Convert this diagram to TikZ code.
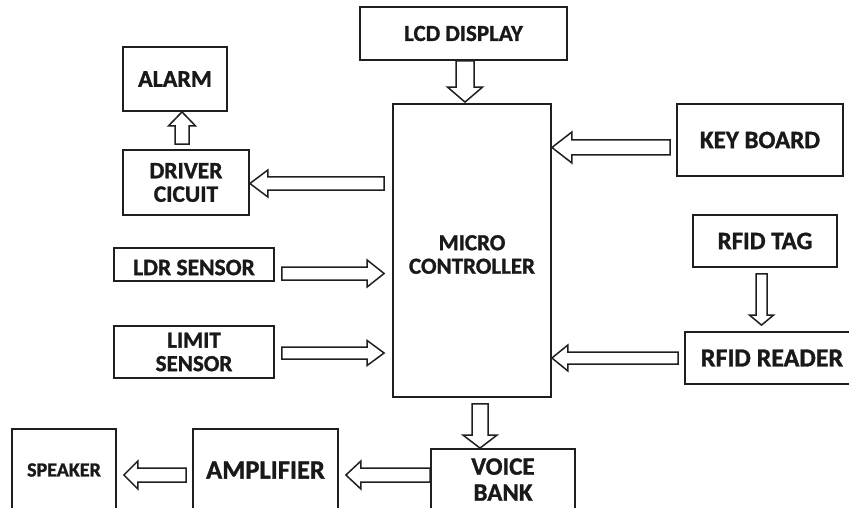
\documentclass[tikz,border=0pt]{standalone}
\usepackage{fontspec}
\setmainfont{Carlito}[BoldFeatures={FakeBold=1.2}]
\usetikzlibrary{calc}
\newcommand\fs[2]{\fontsize{#1}{#2}\selectfont\bfseries}
\newcommand\lowr[2]{\raisebox{-#1pt}[\height][\depth]{#2}}
% block arrow: shaft half width, head half width, head length, start, end
\newcommand\barr[5]{%
  \draw[blk] let \p1=(#4), \p2=(#5),
    \n1={atan2(\y2-\y1,\x2-\x1)}, \n2={veclen(\x2-\x1,\y2-\y1)} in
    [shift={(\p1)}, rotate=\n1]
    (0,-#1) -- ({\n2-#3},-#1) -- ({\n2-#3},-#2) -- ({\n2},0)
    -- ({\n2-#3},#2) -- ({\n2-#3},#1) -- (0,#1) -- cycle;}
\begin{document}
\begin{tikzpicture}[x=1pt,y=-1pt,
  box/.style={draw=black!88, line width=1.8pt, inner sep=0pt, align=center,
    text=black!90, fill=white},
  blk/.style={draw=black!88, line width=1.5pt, fill=white, line join=miter}]
\useasboundingbox (0,0) rectangle (849,508);
\clip (0,0) rectangle (849,508);
\fill[white] (0,0) rectangle (849,508);
% nodes
\node[box, minimum width=104pt, minimum height=64pt, font=\fs{24}{24}] (alarm) at (175,79) {ALARM};
\node[box, minimum width=126pt, minimum height=65pt, font=\fs{23.5}{23.5}] (driver) at (186,182.5) {DRIVER\\CICUIT};
\node[box, minimum width=207pt, minimum height=53pt, font=\fs{23}{24}] (lcd) at (463.5,33.5) {LCD DISPLAY};
\node[box, minimum width=158pt, minimum height=293pt, font=\fs{23}{23.5}] (micro) at (472,250.5) {\lowr{4}{MICRO}\\\lowr{4}{CONTROLLER}};
\node[box, minimum width=166pt, minimum height=72pt, font=\fs{25}{24}] (key) at (760,140) {KEY BOARD};
\node[box, minimum width=144pt, minimum height=52pt, font=\fs{25}{24}] (tag) at (765,241) {RFID TAG};
\node[box, minimum width=174pt, minimum height=52pt, font=\fs{26}{24}] (reader) at (772,358) {RFID READER};
\node[box, minimum width=160pt, minimum height=33pt, font=\fs{23.5}{24}] (ldr) at (194,264.5) {\lowr{3}{LDR SENSOR}};
\node[box, minimum width=160pt, minimum height=52pt, font=\fs{23}{23.5}] (limit) at (194,352) {LIMIT\\SENSOR};
\node[box, minimum width=104pt, minimum height=82pt, font=\fs{20}{24}] (speaker) at (64,470) {SPEAKER};
\node[box, minimum width=145pt, minimum height=82pt, font=\fs{26.5}{24}] (amp) at (265.5,470) {AMPLIFIER};
\node[box, minimum width=144pt, minimum height=61pt, font=\fs{25}{26}] (voice) at (503,479.5) {VOICE\\BANK};
% connectors
\barr{6.5}{13.5}{18}{$(micro.west |- driver.east)+(-8,1)$}{$(driver.east)+(0,1)$}
\barr{7}{13.5}{14}{$(driver.north)+(-4,-5)$}{$(alarm.south -| driver.north)+(-4,0)$}
\barr{9}{17.5}{15}{$(lcd.south)+(1.5,0)$}{$(micro.north -| lcd.south)+(1.5,-1)$}
\barr{7.5}{15.5}{20}{$(key.west)+(-6,7.5)$}{$(micro.east |- key.west)+(0,7.5)$}
\barr{5.5}{12}{10}{$(tag.south)+(-3.5,6)$}{$(reader.north -| tag.south)+(-3.5,-6)$}
\barr{6}{13}{16}{$(reader.west)+(-6,0)$}{micro.east |- reader.west}
\barr{6.5}{13.5}{17}{$(ldr.east)+(7,9)$}{$(micro.west |- ldr.east)+(-8,9)$}
\barr{6}{12.5}{17}{$(limit.east)+(7,1)$}{$(micro.west |- limit.east)+(-8,1)$}
\barr{8}{17}{13}{$(micro.south)+(8,6)$}{$(voice.north -| micro.south)+(8,0)$}
\barr{7}{14}{15}{$(voice.west)+(0,-4.5)$}{$(amp.east |- voice.west)+(7,-4.5)$}
\barr{7}{14}{14}{$(amp.west)+(-6,5)$}{$(speaker.east |- amp.west)+(7,5)$}
\end{tikzpicture}
\end{document}
